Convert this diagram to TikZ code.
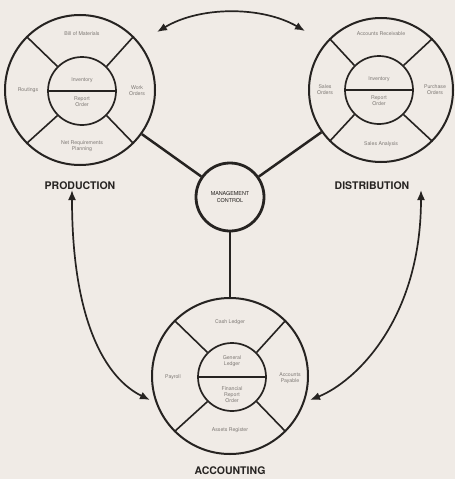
\documentclass[tikz,border=0pt]{standalone}
\usepackage{fontspec}
\setmainfont{TeX Gyre Heros}
\usetikzlibrary{arrows.meta}
\definecolor{paper}{RGB}{240,235,230}
\definecolor{ink}{RGB}{38,35,33}
\definecolor{faint}{RGB}{125,120,116}
\tikzset{
  outerring/.style={circle,draw=ink,line width=2pt,minimum size=#1,inner sep=0pt},
  innerring/.style={circle,draw=ink,line width=1.7pt,minimum size=#1,inner sep=0pt},
  divider/.style={draw=ink,line width=1.6pt},
  segtext/.style={font=\fontsize{5.2}{5.9}\selectfont,text=faint,align=center,inner sep=0pt},
  wheellabel/.style={font=\bfseries\fontsize{10.5}{12}\selectfont,text=ink,inner sep=0pt},
  link/.style={draw=ink,line width=2.5pt},
  twoway/.style={draw=ink,line width=1.7pt,{Latex[length=10pt,width=8pt]}-{Latex[length=10pt,width=8pt]}}
}
\begin{document}
\begin{tikzpicture}[x=1pt,y=-1pt]
\fill[paper] (0,0) rectangle (455,479);
\useasboundingbox (0,0) rectangle (455,479);

% ---------- PRODUCTION ----------
\node[outerring=150pt] (prod) at (80,90) {};
\node[innerring=68pt] (prodin) at (82,91) {};
\draw[divider] (prodin.west) -- (prodin.east);
\foreach \a in {45,135,225,315}{\draw[divider] (prodin.\a) -- (prod.\a);}
\node[segtext] (p1) at (82,34) {Bill of Materials};
\node[segtext] (p2) at (28,90) {Routings};
\node[segtext] (p3) at (137,91) {Work\\Orders};
\node[segtext] (p4) at (82,146) {Net Requirements\\Planning};
\node[segtext] (p5) at (82,80) {Inventory};
\node[segtext] (p6) at (82,102) {Report\\Order};
\node[wheellabel] (plab) at (80,186) {PRODUCTION};

% ---------- DISTRIBUTION ----------
\node[outerring=144pt] (dist) at (381,90) {};
\node[innerring=68pt] (distin) at (379,90) {};
\draw[divider] (distin.west) -- (distin.east);
\foreach \a in {45,135,225,315}{\draw[divider] (distin.\a) -- (dist.\a);}
\node[segtext] (d1) at (381,34) {Accounts Receivable};
\node[segtext] (d2) at (325,90) {Sales\\Orders};
\node[segtext] (d3) at (435,90) {Purchase\\Orders};
\node[segtext] (d4) at (381,144) {Sales Analysis};
\node[segtext] (d5) at (379,79) {Inventory};
\node[segtext] (d6) at (379,101) {Report\\Order};
\node[wheellabel] (dlab) at (372,186) {DISTRIBUTION};

% ---------- ACCOUNTING ----------
\node[outerring=156pt] (acc) at (230,376) {};
\node[innerring=68pt] (accin) at (232,377) {};
\draw[divider] (accin.west) -- (accin.east);
\foreach \a in {45,135,225,315}{\draw[divider] (accin.\a) -- (acc.\a);}
\node[segtext] (a1) at (230,322) {Cash Ledger};
\node[segtext] (a2) at (173,377) {Payroll};
\node[segtext] (a3) at (290,378) {Accounts\\Payable};
\node[segtext] (a4) at (230,430) {Assets Register};
\node[segtext] (a5) at (232,361) {General\\Ledger};
\node[segtext] (a6) at (232,395) {Financial\\Report\\Order};
\node[wheellabel] (alab) at (230,471) {ACCOUNTING};

% ---------- MANAGEMENT CONTROL ----------
\node[circle,draw=ink,line width=2.8pt,minimum size=68pt,inner sep=0pt,
      font=\fontsize{5.4}{6.6}\selectfont,text=ink,align=center] (mc) at (230,197) {MANAGEMENT\\CONTROL};

\draw[link] (mc) -- (prod);
\draw[link] (mc) -- (dist);
\draw[link] (mc) -- (acc);

% ---------- two-way arrows ----------
\coordinate (t1) at (157,32);
\coordinate (t2) at (305,31);
\coordinate (l1) at (72,190);
\coordinate (l2) at (150,400);
\coordinate (r1) at (421,190);
\coordinate (r2) at (310,400);
\draw[twoway] (t1) .. controls (200,6) and (262,6) .. (t2);
\draw[twoway] (l1) .. controls (72,320) and (105,378) .. (l2);
\draw[twoway] (r1) .. controls (421,320) and (355,382) .. (r2);
\end{tikzpicture}
\end{document}
